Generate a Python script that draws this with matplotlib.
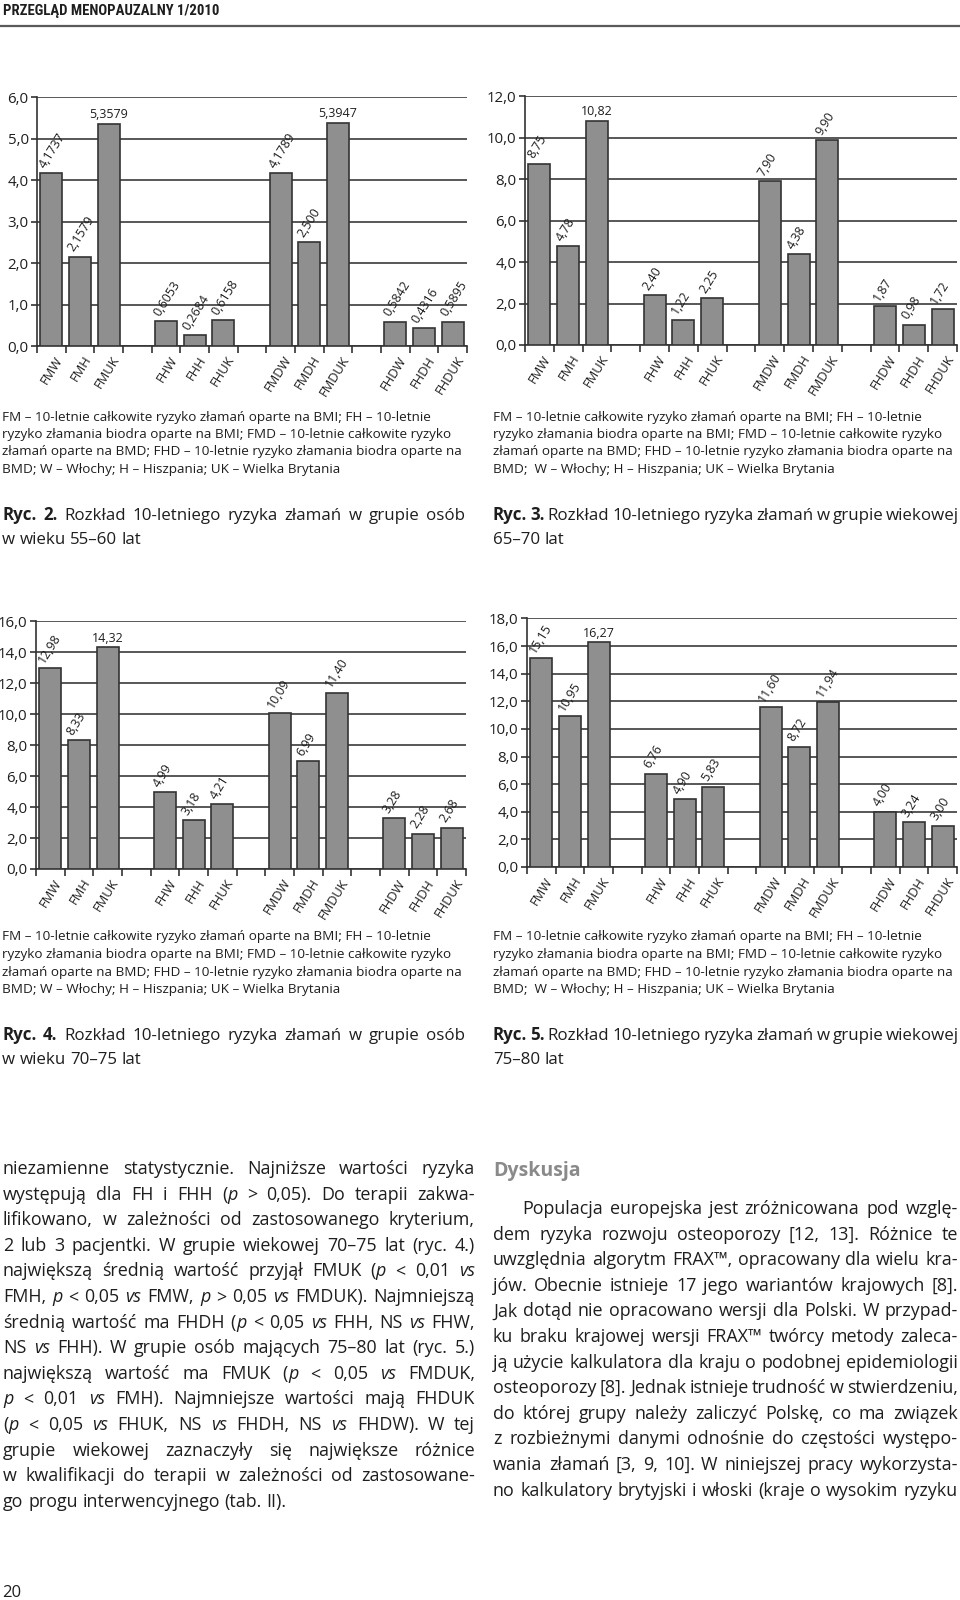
import re
import matplotlib
matplotlib.use("Agg")
import matplotlib.pyplot as plt

# x categories, "" marks the empty slot between groups
categories = ["FMW", "FMH", "FMUK", "", "FHW", "FHH", "FHUK", "",
              "FMDW", "FMDH", "FMDUK", "", "FHDW", "FHDH", "FHDUK"]

# bar values as printed on the charts (decimal comma)
ryc2 = ["4,1737", "2,1579", "5,3579", "", "0,6053", "0,2684", "0,6158", "",
        "4,1789", "2,500", "5,3947", "", "0,5842", "0,4316", "0,5895"]
ryc3 = ["8,75", "4,78", "10,82", "", "2,40", "1,22", "2,25", "",
        "7,90", "4,38", "9,90", "", "1,87", "0,98", "1,72"]
ryc4 = ["12,98", "8,33", "14,32", "", "4,99", "3,18", "4,21", "",
        "10,09", "6,99", "11,40", "", "3,28", "2,28", "2,68"]
ryc5 = ["15,15", "10,95", "16,27", "", "6,76", "4,90", "5,83", "",
        "11,60", "8,72", "11,94", "", "4,00", "3,24", "3,00"]

yticks2 = [0, 1, 2, 3, 4, 5, 6]
yticks3 = [0, 2, 4, 6, 8, 10, 12]
yticks4 = [0, 2, 4, 6, 8, 10, 12, 14, 16]
yticks5 = [0, 2, 4, 6, 8, 10, 12, 14, 16, 18]

legend_a = ["FM – 10-letnie całkowite ryzyko złamań oparte na BMI; FH – 10-letnie",
            "ryzyko złamania biodra oparte na BMI; FMD – 10-letnie całkowite ryzyko",
            "złamań oparte na BMD; FHD – 10-letnie ryzyko złamania biodra oparte na",
            "BMD; W – Włochy; H – Hiszpania; UK – Wielka Brytania"]
legend_b = legend_a[:3] + ["BMD;  W – Włochy; H – Hiszpania; UK – Wielka Brytania"]

cap2 = ["*Ryc.* *2.* Rozkład 10-letniego ryzyka złamań w grupie osób", "w wieku 55–60 lat"]
cap3 = ["*Ryc.* *3.* Rozkład 10-letniego ryzyka złamań w grupie wiekowej", "65–70 lat"]
cap4 = ["*Ryc.* *4.* Rozkład 10-letniego ryzyka złamań w grupie osób", "w wieku 70–75 lat"]
cap5 = ["*Ryc.* *5.* Rozkład 10-letniego ryzyka złamań w grupie wiekowej", "75–80 lat"]

body_left = [
    "niezamienne statystycznie. Najniższe wartości ryzyka",
    "występują dla FH i FHH (_p_ > 0,05). Do terapii zakwa-",
    "lifikowano, w zależności od zastosowanego kryterium,",
    "2 lub 3 pacjentki. W grupie wiekowej 70–75 lat (ryc. 4.)",
    "największą średnią wartość przyjął FMUK (_p_ < 0,01 _vs_",
    "FMH, _p_ < 0,05 _vs_ FMW, _p_ > 0,05 _vs_ FMDUK). Najmniejszą",
    "średnią wartość ma FHDH (_p_ < 0,05 _vs_ FHH, NS _vs_ FHW,",
    "NS _vs_ FHH). W grupie osób mających 75–80 lat (ryc. 5.)",
    "największą wartość ma FMUK (_p_ < 0,05 _vs_ FMDUK,",
    "_p_ < 0,01 _vs_ FMH). Najmniejsze wartości mają FHDUK",
    "(_p_ < 0,05 _vs_ FHUK, NS _vs_ FHDH, NS _vs_ FHDW). W tej",
    "grupie wiekowej zaznaczyły się największe różnice",
    "w kwalifikacji do terapii w zależności od zastosowane-",
    "go progu interwencyjnego (tab. II).",
]
body_right = [
    "Populacja europejska jest zróżnicowana pod wzglę-",
    "dem ryzyka rozwoju osteoporozy [12, 13]. Różnice te",
    "uwzględnia algorytm FRAX™, opracowany dla wielu kra-",
    "jów. Obecnie istnieje 17 jego wariantów krajowych [8].",
    "Jak dotąd nie opracowano wersji dla Polski. W przypad-",
    "ku braku krajowej wersji FRAX™ twórcy metody zaleca-",
    "ją użycie kalkulatora dla kraju o podobnej epidemiologii",
    "osteoporozy [8]. Jednak istnieje trudność w stwierdzeniu,",
    "do której grupy należy zaliczyć Polskę, co ma związek",
    "z rozbieżnymi danymi odnośnie do częstości występo-",
    "wania złamań [3, 9, 10]. W niniejszej pracy wykorzysta-",
    "no kalkulatory brytyjski i włoski (kraje o wysokim ryzyku",
]

W, H = 960, 1600
FONT = ["Open Sans", "DejaVu Sans"]
INK = "#1e1e1e"
plt.rcParams["font.family"] = FONT

fig = plt.figure(figsize=(9.6, 16), dpi=100)
fig.patch.set_facecolor("white")
rend = fig.canvas.get_renderer()


def fx(x):
    return x / W


def fy(y):
    return 1 - y / H


def parse(word):
    out = []
    for p in re.split(r"(\*[^*]+\*|_[^_]+_)", word):
        if not p:
            continue
        if p[0] == "*" and p[-1] == "*" and len(p) > 1:
            out.append((p[1:-1], "bold"))
        elif p[0] == "_" and p[-1] == "_" and len(p) > 1:
            out.append((p[1:-1], "italic"))
        else:
            out.append((p, "normal"))
    return out


def line(x0, x1, y, txt, size, justify=True, color=INK):
    items = []
    for w in txt.split():
        segs = []
        for s, st in parse(w):
            t = fig.text(0, 0, s, fontsize=size, color=color, va="baseline", ha="left",
                         fontweight="bold" if st == "bold" else "normal",
                         fontstyle="italic" if st == "italic" else "normal")
            segs.append((t, t.get_window_extent(rend).width))
        items.append(segs)
    widths = [sum(w for _, w in s) for s in items]
    gap = size * 100 / 72 * 0.26
    if justify and len(items) > 1:
        gap = (x1 - x0 - sum(widths)) / (len(items) - 1)
    cx = x0
    for segs in items:
        for t, w in segs:
            t.set_position((fx(cx), fy(y)))
            cx += w
        cx += gap


def chart(box, vals, yt):
    l, t, r, b = box
    ax = fig.add_axes([fx(l), fy(b), (r - l) / W, (b - t) / H])
    ymax = yt[-1]
    n = len(categories)
    for i, s in enumerate(vals):
        if not s:
            continue
        v = float(s.replace(",", "."))
        ax.bar(i, v, 0.76, color="#8f8f8f", edgecolor="#333333", linewidth=1.2, zorder=3)
        if v > 0.85 * ymax:
            ax.annotate(s, (i, v), xytext=(0, 2), textcoords="offset points",
                        ha="center", va="bottom", fontsize=9, color=INK)
        else:
            ax.annotate(s, (i, v), xytext=(-2.5, 2), textcoords="offset points",
                        rotation=58, rotation_mode="anchor", ha="left", va="bottom",
                        fontsize=9, color=INK)
    for i, c in enumerate(categories):
        if c:
            ax.annotate(c, (i, 0), xycoords=("data", "axes fraction"), xytext=(6, -8),
                        textcoords="offset points", rotation=58, rotation_mode="anchor",
                        ha="right", va="center", fontsize=9.3, color=INK, annotation_clip=False)
    ax.set_xlim(-0.5, n - 0.5)
    ax.set_ylim(0, ymax * 1.002)
    ax.set_xticks([])
    ax.set_xticks([i - 0.5 for i in range(n + 1)], minor=True)
    ax.set_yticks(yt)
    ax.set_yticklabels([f"{v},0" for v in yt])
    ax.tick_params(axis="x", which="minor", length=5, width=1.2, color="#333333")
    ax.tick_params(axis="y", length=4.5, width=1.2, color="#333333", pad=1.5,
                   labelsize=10.8, labelcolor=INK)
    ax.yaxis.grid(True, color="#4a4a4a", linewidth=1.3)
    ax.set_axisbelow(True)
    for sp in ["top", "right"]:
        ax.spines[sp].set_visible(False)
    for sp in ["left", "bottom"]:
        ax.spines[sp].set_color("#333333")
        ax.spines[sp].set_linewidth(1.2)
    return ax


# header
fig.text(fx(3), fy(15), "PRZEGLĄD MENOPAUZALNY 1/2010", fontsize=10.6, color=INK,
         family=["Liberation Sans Narrow", "DejaVu Sans Condensed", "Roboto Condensed",
                 "Open Sans Condensed", "Liberation Sans"],
         fontweight="bold", va="baseline", ha="left")
fig.add_artist(plt.Line2D([0, 1], [fy(26), fy(26)], color="#5a5a5a", linewidth=1.6))

chart((37, 97, 467, 346), ryc2, yticks2)
chart((525, 96, 957, 345), ryc3, yticks3)
chart((36, 621, 466, 869), ryc4, yticks4)
chart((527, 618, 957, 867), ryc5, yticks5)

# captions under the charts
for (x0, x1, dy, leg, cap) in [(2, 465, 0, legend_a, cap2), (493, 959, 0, legend_b, cap3),
                               (2, 465, 520, legend_a, cap4), (493, 959, 520, legend_b, cap5)]:
    for k, s in enumerate(leg):
        fig.text(fx(x0), fy(420.5 + dy + 17.5 * k), s, fontsize=9.7, color=INK,
                 va="baseline", ha="left")
    line(x0, x1, 519.5 + dy, cap[0], 12.2)
    line(x0, x1, 544 + dy, cap[1], 12.2, justify=False)

# body text
for k, s in enumerate(body_left):
    line(3, 475, 1174 + 25.6 * k, s, 12.9, justify=k < len(body_left) - 1)

fig.text(fx(493), fy(1176), "Dyskusja", fontsize=14, fontweight="bold", color="#8a8a8a",
         va="baseline", ha="left")
for k, s in enumerate(body_right):
    line(493 + (29 if k == 0 else 0), 958, 1214 + 25.6 * k, s, 12.9)

fig.text(fx(2), fy(1597), "20", fontsize=12, color=INK, va="baseline", ha="left")

fig.savefig("out.png", dpi=100, facecolor="white")
